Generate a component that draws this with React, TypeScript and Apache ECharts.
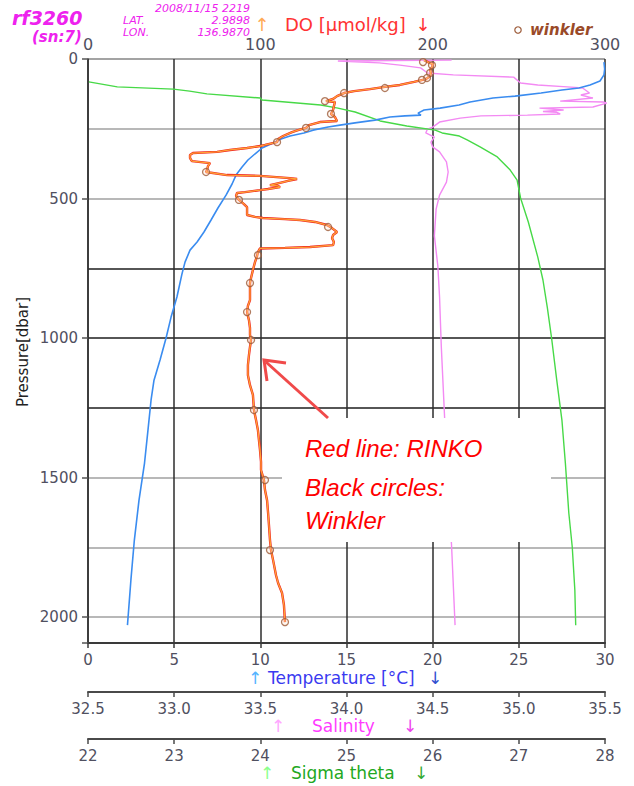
import React, { useEffect, useRef } from 'react';
import * as echarts from 'echarts';

// [temperature °C, pressure dbar]
const temperatureProfile: [number, number][] = [
  [29.94, 11], [29.98, 36], [29.94, 57], [29.71, 79], [29.13, 93], [28.49, 104], [27.5, 111], [26.29, 122],
  [24.78, 133], [23.5, 140], [22.17, 154], [21.53, 165], [20.43, 176], [19.5, 183], [19.15, 194], [19.32, 201],
  [18.39, 204], [17.52, 208], [16.65, 219], [15.49, 229], [14.62, 237], [13.93, 244], [13.06, 255], [12.53, 265],
  [11.72, 276], [11.2, 287], [10.74, 301], [10.1, 319], [9.75, 337], [9.28, 362], [8.94, 387], [8.59, 416],
  [8.36, 448], [8.01, 488], [7.54, 534], [7.14, 577], [6.73, 620], [6.33, 656], [5.92, 685], [5.63, 728],
  [5.45, 771], [5.16, 853], [4.82, 925], [4.53, 1000], [4.18, 1079], [3.83, 1151], [3.66, 1222], [3.48, 1330],
  [3.28, 1448], [2.96, 1581], [2.69, 1724], [2.49, 1867], [2.29, 2029],
];

// [salinity, pressure dbar]
const salinityProfile: [number, number][] = [
  [34.61, 4], [33.95, 7], [34.19, 14], [34.31, 22], [34.43, 32], [34.47, 50], [34.62, 57], [34.97, 65],
  [35.01, 86], [35.11, 93], [35.28, 100], [35.37, 104], [35.41, 122], [35.36, 129], [35.43, 140], [35.24, 151],
  [35.49, 154], [35.51, 158], [35.43, 172], [35.12, 176], [35.26, 183], [35.14, 188], [35.22, 191], [35.24, 197],
  [35.05, 201], [34.78, 204], [34.66, 212], [34.54, 226], [34.5, 244], [34.47, 251], [34.46, 265], [34.51, 280],
  [34.49, 298], [34.5, 315], [34.54, 333], [34.58, 369], [34.59, 405], [34.58, 441], [34.54, 488], [34.52, 538],
  [34.51, 634], [34.53, 742], [34.54, 853], [34.55, 1029], [34.57, 1294], [34.59, 1509], [34.61, 1749], [34.63, 2029],
];

// [sigma theta, pressure dbar]
const sigmaProfile: [number, number][] = [
  [22.01, 82], [22.34, 100], [22.99, 108], [23.18, 115], [23.38, 125], [24.0, 140], [24.02, 147], [24.7, 165],
  [24.9, 176], [25.1, 190], [25.39, 222], [25.7, 240], [26.03, 255], [26.11, 265], [26.31, 276], [26.4, 290],
  [26.55, 315], [26.75, 351], [26.9, 398], [26.98, 434], [27.02, 498], [27.11, 584], [27.22, 710], [27.28, 792],
  [27.33, 889], [27.38, 1000], [27.44, 1151], [27.5, 1294], [27.54, 1448], [27.58, 1627], [27.62, 1749],
  [27.65, 1903], [27.66, 2029],
];

// [DO µmol/kg, pressure dbar] (RINKO)
const doProfile: [number, number][] = [
  [195.0, 4], [197.3, 11], [200.2, 18], [199.6, 29], [198.5, 39], [199.0, 50], [198.5, 61], [196.1, 72],
  [189.2, 82], [181.0, 93], [172.3, 100], [163.6, 108], [154.4, 115], [148.6, 122], [144.5, 133], [142.2, 143],
  [138.1, 151], [143.3, 154], [142.7, 169], [142.2, 183], [141.0, 197], [143.3, 208], [144.5, 222], [134.6, 226],
  [128.2, 237], [126.5, 247], [121.9, 255], [118.4, 262], [113.2, 276], [110.3, 287], [109.7, 298], [102.7, 308],
  [99.8, 312], [92.3, 319], [82.4, 326], [74.9, 333], [60.9, 337], [59.2, 344], [59.2, 355], [60.3, 366],
  [70.8, 373], [69.6, 384], [69.1, 398], [68.5, 405], [80.7, 416], [99.8, 419], [117.2, 427], [121.3, 430],
  [116.1, 437], [113.2, 441], [105.6, 452], [110.3, 455], [111.4, 459], [104.4, 466], [99.8, 470], [91.1, 477],
  [86.5, 480], [85.9, 491], [87.6, 505], [90.5, 520], [92.3, 531], [92.3, 545], [92.3, 559], [96.9, 566],
  [101.5, 570], [114.3, 574], [123.0, 577], [131.7, 584], [138.7, 595], [141.6, 606], [144.5, 620], [142.2, 631],
  [141.6, 642], [142.7, 656], [142.2, 667], [128.8, 674], [114.3, 677], [99.8, 679], [98.6, 692], [98.1, 706],
  [96.9, 728], [95.7, 756], [94.6, 785], [94.0, 803], [94.0, 835], [94.0, 864], [92.8, 885], [92.3, 907],
  [93.4, 936], [94.0, 964], [94.0, 989], [94.6, 1007], [94.0, 1032], [93.4, 1061], [92.8, 1097], [92.8, 1133],
  [94.0, 1169], [95.7, 1204], [96.3, 1258], [97.5, 1294], [98.6, 1330], [99.2, 1366], [99.8, 1401], [100.4, 1444],
  [100.4, 1473], [102.1, 1509], [102.7, 1545], [103.9, 1581], [104.5, 1627], [105.0, 1670], [105.6, 1724],
  [106.2, 1760], [107.4, 1796], [109.1, 1850], [110.3, 1878], [112.6, 1914], [113.7, 1957], [114.3, 2018],
];

// [DO µmol/kg, pressure dbar] (Winkler bottle samples)
const winklerSamples: [number, number][] = [
  [194.4, 11], [199.6, 22], [198.5, 50], [196.7, 68], [193.8, 75], [172.3, 104], [148.6, 122], [137.5, 151],
  [141.0, 197], [126.5, 247], [109.7, 298], [68.5, 405], [87.6, 505], [139.3, 602], [98.6, 703], [94.0, 803],
  [92.3, 907], [94.6, 1007], [96.3, 1258], [102.7, 1509], [105.6, 1760], [114.3, 2018],
];

const headerLines = ['2008/11/15 2219', '2.9898', '136.9870'];

const FONT = 'DejaVu Sans';
const LABEL = '#505060';

export default function App() {
  const ref = useRef<HTMLDivElement>(null);
  useEffect(() => {
    const chart = echarts.init(ref.current!, null, { renderer: 'svg' });

    const bottomAxis = (min: number, max: number, interval: number, offset: number, fmt?: (v: number) => string) => ({
      type: 'value',
      position: 'bottom',
      offset,
      min,
      max,
      interval,
      axisLine: { show: true, onZero: false, lineStyle: { color: '#4a4a4a', width: 2 } },
      axisTick: { show: true, inside: false, length: 5, lineStyle: { color: '#4a4a4a', width: 1.5 } },
      axisLabel: { margin: 9, color: LABEL, fontSize: 15, fontFamily: FONT, formatter: fmt },
      splitLine: { show: false },
    });

    const txt = (x: number, y: number, text: string, fill: string, fontSize: number, extra: any = {}) => ({
      type: 'text',
      x,
      y,
      z: 50,
      style: { text, fill, fontSize, fontFamily: FONT, align: 'left', verticalAlign: 'middle', ...extra },
    });

    const small = { fontStyle: 'italic', lineHeight: 11 };

    const gridColors = ['#858585', '#a0a0a0', '#a0a0a0', '#1e1e1e', '#1e1e1e', '#1e1e1e', '#a0a0a0', '#a0a0a0', '#a0a0a0', '#a0a0a0'];

    chart.setOption({
      animation: false,
      backgroundColor: '#ffffff',
      textStyle: { fontFamily: FONT },
      grid: { left: 88, right: 29, top: 59, bottom: 143, containLabel: false },
      xAxis: [
        {
          type: 'value',
          position: 'bottom',
          min: 0,
          max: 30,
          interval: 5,
          axisLine: { show: true, onZero: false, lineStyle: { color: '#3a3a3a', width: 2 } },
          axisTick: { show: true, inside: false, length: 5, lineStyle: { color: '#3a3a3a', width: 1.5 } },
          axisLabel: { margin: 9, color: LABEL, fontSize: 15, fontFamily: FONT },
          splitLine: { show: true, lineStyle: { color: '#2c2c2c', width: 1.5 } },
        },
        {
          type: 'value',
          position: 'top',
          min: 0,
          max: 300,
          interval: 100,
          axisLine: { show: false, onZero: false },
          axisTick: { show: false },
          axisLabel: { margin: 7, color: LABEL, fontSize: 16, fontFamily: FONT },
          splitLine: { show: false },
        },
        bottomAxis(32.5, 35.5, 0.5, 49, (v: number) => v.toFixed(1)),
        bottomAxis(22, 28, 1, 96),
      ],
      yAxis: [
        {
          type: 'value',
          inverse: true,
          min: 0,
          max: 2093,
          interval: 500,
          axisLine: { show: true, onZero: false, lineStyle: { color: '#333333', width: 1.5 } },
          axisTick: { show: true, length: 6, lineStyle: { color: '#555555', width: 1.5 } },
          axisLabel: {
            margin: 10,
            color: LABEL,
            fontSize: 15,
            fontFamily: FONT,
            formatter: (v: number) => (v % 500 === 0 ? String(v) : ''),
          },
          splitLine: { show: false },
        },
        {
          type: 'value',
          inverse: true,
          min: 0,
          max: 2093,
          interval: 250,
          position: 'left',
          axisLine: { show: false },
          axisTick: { show: false },
          axisLabel: { show: false },
          splitLine: { show: true, lineStyle: { color: gridColors, width: 1.6 } },
        },
      ],
      series: [
        {
          type: 'line',
          name: 'Salinity',
          xAxisIndex: 2,
          yAxisIndex: 0,
          data: salinityProfile,
          showSymbol: false,
          symbol: 'none',
          clip: true,
          lineStyle: { color: '#f38af3', width: 1.4 },
          z: 3,
        },
        {
          type: 'line',
          name: 'Sigma theta',
          xAxisIndex: 3,
          yAxisIndex: 0,
          data: sigmaProfile,
          showSymbol: false,
          symbol: 'none',
          clip: true,
          lineStyle: { color: '#47d947', width: 1.4 },
          z: 3,
        },
        {
          type: 'line',
          name: 'Temperature',
          xAxisIndex: 0,
          yAxisIndex: 0,
          data: temperatureProfile,
          showSymbol: false,
          symbol: 'none',
          clip: true,
          lineStyle: { color: '#3a8cf0', width: 1.6 },
          z: 4,
        },
        {
          type: 'line',
          name: 'RINKO',
          xAxisIndex: 1,
          yAxisIndex: 0,
          data: doProfile,
          showSymbol: false,
          symbol: 'none',
          clip: true,
          lineStyle: { color: '#ee2222', width: 2.4 },
          z: 5,
        },
        {
          type: 'line',
          name: 'DO',
          xAxisIndex: 1,
          yAxisIndex: 0,
          data: doProfile,
          showSymbol: false,
          symbol: 'none',
          clip: true,
          lineStyle: { color: '#ffa235', width: 1.3 },
          z: 6,
        },
        {
          type: 'scatter',
          name: 'winkler',
          xAxisIndex: 1,
          yAxisIndex: 0,
          data: winklerSamples,
          symbol: 'circle',
          symbolSize: 7,
          itemStyle: { color: 'rgba(255,230,200,0.35)', borderColor: '#9c5a38', borderWidth: 1.3 },
          z: 7,
        },
      ],
      graphic: [
        // header
        txt(12, 18, 'rf3260', '#ee22ee', 19, { fontStyle: 'italic', fontWeight: 'bold' }),
        txt(32, 37, '(sn:7)', '#ee22ee', 15, { fontStyle: 'italic', fontWeight: 'bold' }),
        txt(250, 8, headerLines[0], '#ee22ee', 11, { ...small, align: 'right' }),
        txt(123, 20, 'LAT.', '#ee22ee', 11, small),
        txt(250, 20, headerLines[1], '#ee22ee', 11, { ...small, align: 'right' }),
        txt(123, 32, 'LON.', '#ee22ee', 11, small),
        txt(250, 32, headerLines[2], '#ee22ee', 11, { ...small, align: 'right' }),
        // DO title
        txt(262, 24, '↑', '#ffaa55', 18, { align: 'center' }),
        txt(285, 24, 'DO [µmol/kg]', '#ff3333', 18),
        txt(423, 24, '↓', '#ff3333', 18, { align: 'center' }),
        // winkler legend
        {
          type: 'circle',
          z: 50,
          shape: { cx: 518, cy: 30, r: 3.2 },
          style: { fill: 'none', stroke: '#9c5a38', lineWidth: 1.2 },
        },
        txt(530, 30, 'winkler', '#9a4a28', 15, { fontStyle: 'italic', fontWeight: 'bold' }),
        // pressure label
        {
          type: 'text',
          x: 23,
          y: 352,
          rotation: Math.PI / 2,
          z: 50,
          style: { text: 'Pressure[dbar]', fill: '#222222', fontSize: 15, fontFamily: FONT, align: 'center', verticalAlign: 'middle' },
        },
        // bottom titles
        txt(255, 678, '↑', '#55b4ff', 17, { align: 'center' }),
        txt(268, 678, 'Temperature [°C]', '#3a3af0', 17),
        txt(435, 678, '↓', '#2f4fd0', 17, { align: 'center' }),
        txt(278, 726, '↑', '#ffa8ff', 17, { align: 'center' }),
        txt(312, 726, 'Salinity', '#ff3cff', 17),
        txt(410, 726, '↓', '#ee44ee', 17, { align: 'center' }),
        txt(267, 773, '↑', '#8cff8c', 17, { align: 'center' }),
        txt(291, 773, 'Sigma theta', '#22a822', 17),
        txt(421, 773, '↓', '#33aa33', 17, { align: 'center' }),
        // annotation box
        {
          type: 'rect',
          z: 80,
          shape: { x: 282, y: 418, width: 269, height: 124 },
          style: { fill: '#ffffff' },
        },
        {
          type: 'text',
          x: 305,
          y: 448,
          z: 81,
          style: { text: 'Red line: RINKO', fill: '#ff0000', fontSize: 24, fontStyle: 'italic', fontFamily: 'Liberation Sans', verticalAlign: 'middle' },
        },
        {
          type: 'text',
          x: 305,
          y: 487,
          z: 81,
          style: { text: 'Black circles:', fill: '#ff0000', fontSize: 24, fontStyle: 'italic', fontFamily: 'Liberation Sans', verticalAlign: 'middle' },
        },
        {
          type: 'text',
          x: 305,
          y: 520,
          z: 81,
          style: { text: 'Winkler', fill: '#ff0000', fontSize: 24, fontStyle: 'italic', fontFamily: 'Liberation Sans', verticalAlign: 'middle' },
        },
        // arrow
        {
          type: 'line',
          z: 82,
          shape: { x1: 328, y1: 418, x2: 266, y2: 362 },
          style: { stroke: '#f04a4a', lineWidth: 3 },
        },
        {
          type: 'polyline',
          z: 82,
          shape: { points: [[286, 363], [264, 360], [267, 381]] },
          style: { stroke: '#f04a4a', lineWidth: 3, fill: 'none' },
        },
      ],
    });
    return () => chart.dispose();
  }, []);
  return (
    <div
      ref={ref}
      style={{ position: 'absolute', left: 0, top: 0, width: 634, height: 786, background: '#ffffff' }}
    />
  );
}
